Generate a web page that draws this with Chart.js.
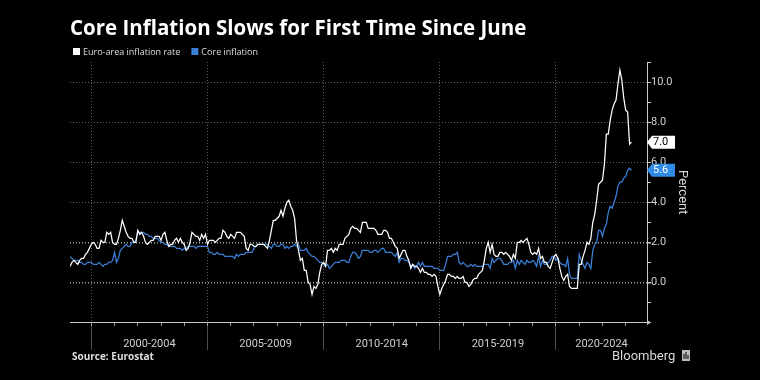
<!DOCTYPE html>
<html>
<head>
<meta charset="utf-8">
<script src="https://cdn.jsdelivr.net/npm/chart.js@4.4.0/dist/chart.umd.min.js"></script>
<style>
  html, body { margin: 0; padding: 0; background: #000; }
  #wrap { width: 760px; height: 380px; position: relative; }
</style>
</head>
<body>
<div id="wrap"><canvas id="c" width="760" height="380"></canvas></div>
<script>
// ---------- text ----------
const chartTitle = 'Core Inflation Slows for First Time Since June';
const seriesNames = ['Euro-area inflation rate', 'Core inflation'];
const sourceText = 'Source: Eurostat';
const brandText = 'Bloomberg';
const yAxisTitle = 'Percent';

// ---------- time axis (months since Jan 1999) ----------
const firstMonth = 1;          // Feb 1999
const xMin = 1, xMax = 299;    // Feb 1999 .. Dec 2023
const periodLabels = ['2000-2004', '2005-2009', '2010-2014', '2015-2019', '2020-2024'];
const periodStartYears = [2000, 2005, 2010, 2015, 2020];
const yLabelValues = [0, 2, 4, 6, 8, 10];

// ---------- series, monthly, Feb 1999 .. Apr 2023 ----------
const headline = [
  0.8, 1.0, 1.1, 1.0, 0.9, 1.1, 1.2, 1.2, 1.4, 1.5, 1.7,            // 1999
  1.9, 2.0, 1.9, 1.7, 1.7, 2.1, 2.0, 2.0, 2.5, 2.4, 2.5, 2.0,       // 2000
  1.9, 1.9, 2.2, 2.6, 3.1, 2.8, 2.5, 2.3, 2.2, 2.2, 2.0, 2.0,       // 2001
  2.6, 2.4, 2.5, 2.3, 2.0, 1.9, 2.0, 2.1, 2.1, 2.3, 2.3, 2.3,       // 2002
  2.1, 2.4, 2.5, 2.1, 1.8, 1.9, 1.9, 2.1, 2.2, 2.0, 2.2, 2.0,       // 2003
  1.9, 1.6, 1.7, 2.0, 2.5, 2.4, 2.3, 2.3, 2.1, 2.4, 2.2, 2.4,       // 2004
  1.9, 2.1, 2.1, 2.1, 2.0, 2.1, 2.2, 2.2, 2.6, 2.5, 2.3, 2.2,       // 2005
  2.4, 2.3, 2.2, 2.5, 2.5, 2.5, 2.4, 2.3, 1.7, 1.6, 1.9, 1.9,       // 2006
  1.8, 1.8, 1.9, 1.9, 1.9, 1.9, 1.8, 1.7, 2.1, 2.6, 3.1, 3.1,       // 2007
  3.2, 3.3, 3.6, 3.3, 3.7, 4.0, 4.1, 3.8, 3.6, 3.2, 2.1, 1.6,       // 2008
  1.1, 1.2, 0.6, 0.6, 0.0, -0.1, -0.6, -0.2, -0.3, -0.1, 0.5, 0.9,  // 2009
  1.0, 0.8, 1.6, 1.6, 1.7, 1.5, 1.7, 1.6, 1.9, 1.9, 1.9, 2.2,       // 2010
  2.3, 2.4, 2.7, 2.8, 2.7, 2.7, 2.6, 2.5, 3.0, 3.0, 3.0, 2.7,       // 2011
  2.7, 2.7, 2.7, 2.6, 2.4, 2.4, 2.4, 2.6, 2.6, 2.5, 2.2, 2.2,       // 2012
  2.0, 1.8, 1.7, 1.2, 1.4, 1.6, 1.6, 1.3, 1.1, 0.7, 0.9, 0.8,       // 2013
  0.8, 0.7, 0.5, 0.7, 0.5, 0.5, 0.4, 0.4, 0.3, 0.4, 0.3, -0.2,      // 2014
  -0.6, -0.3, -0.1, 0.1, 0.4, 0.4, 0.3, 0.3, 0.2, 0.3, 0.2, 0.2,    // 2015
  0.3, 0.0, 0.0, -0.2, -0.1, 0.1, 0.2, 0.2, 0.4, 0.5, 0.6, 1.1,     // 2016
  1.7, 2.0, 1.5, 1.9, 1.4, 1.3, 1.3, 1.5, 1.5, 1.4, 1.5, 1.4,       // 2017
  1.3, 1.1, 1.4, 1.2, 2.0, 2.0, 2.1, 2.0, 2.1, 2.2, 1.9, 1.5,       // 2018
  1.4, 1.5, 1.4, 1.7, 1.2, 1.3, 1.0, 1.0, 0.8, 0.7, 1.0, 1.3,       // 2019
  1.4, 1.2, 0.7, 0.3, 0.1, 0.3, 0.4, -0.2, -0.3, -0.3, -0.3, -0.3,  // 2020
  0.9, 0.9, 1.3, 1.6, 2.0, 1.9, 2.2, 3.0, 3.4, 4.1, 4.9, 5.0,       // 2021
  5.1, 5.9, 7.4, 7.4, 8.1, 8.6, 8.9, 9.1, 9.9, 10.6, 10.1, 9.2,     // 2022
  8.6, 8.5, 6.9, 7.0                                                // 2023
];
const core = [
  1.3, 1.2, 1.1, 1.1, 1.1, 1.0, 1.0, 0.9, 0.9, 1.0, 1.0,            // 1999
  1.0, 0.9, 0.9, 0.9, 1.0, 0.9, 0.8, 0.9, 0.9, 1.0, 1.0, 1.1,       // 2000
  1.5, 1.0, 1.2, 1.6, 1.7, 1.8, 1.9, 1.8, 1.8, 2.0, 2.0, 2.1,       // 2001
  2.5, 2.5, 2.5, 2.5, 2.4, 2.4, 2.3, 2.3, 2.2, 2.2, 2.2, 2.1,       // 2002
  2.0, 2.0, 1.9, 1.9, 1.8, 1.8, 1.8, 1.8, 1.7, 1.7, 1.7, 1.6,       // 2003
  1.7, 1.7, 1.8, 1.8, 1.8, 1.8, 1.7, 1.8, 1.8, 1.8, 1.8, 1.8,       // 2004
  1.8, 1.5, 1.5, 1.4, 1.4, 1.5, 1.4, 1.4, 1.4, 1.3, 1.3, 1.3,       // 2005
  1.3, 1.3, 1.2, 1.4, 1.3, 1.4, 1.4, 1.4, 1.5, 1.5, 1.5, 1.5,       // 2006
  1.7, 1.8, 1.9, 1.9, 1.9, 1.9, 1.9, 1.9, 1.8, 1.7, 1.9, 1.9,       // 2007
  1.8, 1.8, 1.9, 1.9, 1.7, 1.8, 1.7, 1.8, 1.8, 1.9, 1.8, 1.9,       // 2008
  1.6, 1.6, 1.6, 1.7, 1.5, 1.4, 1.3, 1.3, 1.2, 1.1, 1.0, 1.0,       // 2009
  0.9, 0.8, 0.9, 0.7, 0.8, 0.9, 1.0, 1.0, 1.0, 1.1, 1.1, 1.1,       // 2010
  1.0, 1.0, 1.3, 1.5, 1.5, 1.4, 1.2, 1.3, 1.6, 1.6, 1.6, 1.6,       // 2011
  1.5, 1.5, 1.6, 1.6, 1.5, 1.6, 1.7, 1.7, 1.5, 1.5, 1.5, 1.5,       // 2012
  1.4, 1.3, 1.5, 1.0, 1.2, 1.2, 1.1, 1.1, 1.0, 0.8, 0.9, 0.7,       // 2013
  0.8, 1.0, 0.8, 1.0, 0.8, 0.8, 0.8, 0.8, 0.8, 0.7, 0.7, 0.7,       // 2014
  0.6, 0.6, 0.6, 0.9, 1.3, 1.3, 1.3, 1.4, 1.4, 1.5, 1.0, 0.9,       // 2015
  1.0, 0.9, 0.8, 0.8, 0.9, 0.8, 0.9, 0.8, 0.8, 0.8, 0.8, 0.9,       // 2016
  0.9, 0.9, 0.7, 1.2, 1.0, 1.1, 1.2, 1.2, 1.1, 0.9, 0.9, 0.9,       // 2017
  1.0, 1.0, 1.1, 0.7, 1.1, 0.9, 1.1, 1.0, 0.9, 1.1, 1.0, 1.0,       // 2018
  1.1, 1.0, 0.8, 1.3, 0.8, 1.1, 0.9, 0.9, 1.0, 1.1, 1.3, 1.3,       // 2019
  1.1, 1.2, 1.0, 0.9, 0.9, 0.8, 1.2, 0.4, 0.2, 0.2, 0.2, 0.2,       // 2020
  1.4, 1.1, 0.9, 0.7, 1.0, 0.9, 0.7, 1.6, 1.9, 2.0, 2.6, 2.6,       // 2021
  2.3, 2.7, 2.9, 3.5, 3.8, 3.7, 4.0, 4.3, 4.8, 5.0, 5.0, 5.2,       // 2022
  5.3, 5.6, 5.7, 5.6                                                // 2023
];

// ---------- styles ----------
const WHITE = '#ffffff';
const BLUE = '#3a80d8';
const TAG_BLUE = '#2f8be6';
const FONT = 'Roboto';
const HEAD_FONT = '"Open Sans"';

const monthIndex = y => (y - 1999) * 12;
const sepTicks = periodStartYears.map(monthIndex);
const labelTicks = periodStartYears.map(y => {
  const s = monthIndex(y);
  return (s + Math.min(s + 60, xMax)) / 2;
});
const yearTicks = [];
for (let y = 2000; y <= 2023; y++) yearTicks.push(monthIndex(y));

const toPoints = arr => arr.map((v, i) => ({ x: firstMonth + i, y: v }));

const decor = {
  id: 'decor',
  afterDraw(chart) {
    const { ctx, chartArea, scales } = chart;
    ctx.save();
    // title
    ctx.fillStyle = '#ffffff';
    ctx.font = `bold 20.5px ${HEAD_FONT}`;
    ctx.textBaseline = 'alphabetic';
    ctx.textAlign = 'left';
    ctx.fillText(chartTitle, 70, 35);

    // legend
    ctx.font = `9px ${HEAD_FONT}`;
    ctx.textBaseline = 'middle';
    let lx = 73;
    const ly = 51.5;
    chart.data.datasets.forEach(ds => {
      ctx.fillStyle = ds.borderColor;
      ctx.fillRect(lx, ly - 3.5, 7, 7);
      ctx.fillStyle = '#dddddd';
      ctx.fillText(ds.label, lx + 10, ly + 0.5);
      lx += 10 + ctx.measureText(ds.label).width + 11;
    });

    // arrow at end of x axis
    ctx.fillStyle = '#c8c8c8';
    const ab = chartArea.bottom;
    ctx.beginPath();
    ctx.moveTo(chartArea.right, ab - 2.5);
    ctx.lineTo(chartArea.right + 4, ab);
    ctx.lineTo(chartArea.right, ab + 2.5);
    ctx.closePath();
    ctx.fill();

    // last-value tags
    chart.data.datasets.forEach((ds, i) => {
      const last = ds.data[ds.data.length - 1];
      const y = scales.y.getPixelForValue(last.y);
      const x0 = chartArea.right;
      const h = 6.5;
      ctx.fillStyle = i === 0 ? '#ffffff' : TAG_BLUE;
      ctx.beginPath();
      ctx.moveTo(x0, y);
      ctx.lineTo(x0 + 5, y - h);
      ctx.lineTo(x0 + 28, y - h);
      ctx.lineTo(x0 + 28, y + h);
      ctx.lineTo(x0 + 5, y + h);
      ctx.closePath();
      ctx.fill();
      ctx.fillStyle = i === 0 ? '#000000' : '#ffffff';
      ctx.font = `11px ${FONT}`;
      ctx.textBaseline = 'middle';
      ctx.fillText(last.y.toFixed(1), x0 + 6, y + 0.5);
    });

    // source
    ctx.fillStyle = '#dddddd';
    ctx.font = `bold 10px ${HEAD_FONT}`;
    ctx.textBaseline = 'middle';
    ctx.fillText(sourceText, 72, 357.5);

    // brand
    ctx.fillStyle = '#d8d8d8';
    ctx.font = `13px ${FONT}`;
    ctx.fillText(brandText, 612, 356.5);
    // small logo box
    ctx.fillStyle = '#bdbdbd';
    ctx.fillRect(682, 350, 8, 11);
    ctx.fillStyle = '#000';
    ctx.fillRect(683.5, 354, 1, 5);
    ctx.fillRect(685.5, 352, 1, 7);
    ctx.fillRect(687.5, 355, 1, 4);
    ctx.restore();
  }
};

new Chart(document.getElementById('c'), {
  type: 'line',
  data: {
    datasets: [
      { label: seriesNames[0], data: toPoints(headline), borderColor: WHITE, backgroundColor: WHITE,
        borderWidth: 1.25, pointRadius: 0, tension: 0, xAxisID: 'x', yAxisID: 'y' },
      { label: seriesNames[1], data: toPoints(core), borderColor: BLUE, backgroundColor: BLUE,
        borderWidth: 1.25, pointRadius: 0, tension: 0, xAxisID: 'x', yAxisID: 'y' }
    ]
  },
  options: {
    responsive: false,
    animation: false,
    events: [],
    layout: { padding: { top: 62, left: 70, right: 0, bottom: 27.5 } },
    plugins: { legend: { display: false }, title: { display: false }, tooltip: { enabled: false } },
    scales: {
      x: {
        type: 'linear', axis: 'x', position: 'bottom', min: xMin, max: xMax,
        afterBuildTicks: s => { s.ticks = labelTicks.map(v => ({ value: v })); },
        afterFit: s => { s.height = 30; },
        ticks: { callback: (v, i) => periodLabels[i], color: '#d0d0d0', font: { family: FONT, size: 11 },
                 padding: 15, autoSkip: false, maxRotation: 0, minRotation: 0 },
        grid: { display: false, drawTicks: false },
        border: { display: true, color: '#c8c8c8', width: 1 }
      },
      xs: {
        type: 'linear', axis: 'x', position: { y: -2 }, min: xMin, max: xMax,
        afterBuildTicks: s => { s.ticks = sepTicks.map(v => ({ value: v })); },
        ticks: { display: false },
        grid: { color: '#5c5c5c', lineWidth: 1, drawOnChartArea: true, drawTicks: true,
                tickLength: 27, tickColor: '#4c4c4c' },
        border: { display: false, dash: [1, 2] }
      },
      xm: {
        type: 'linear', axis: 'x', position: { y: -2 }, min: xMin, max: xMax,
        afterBuildTicks: s => { s.ticks = yearTicks.map(v => ({ value: v })); },
        ticks: { display: false },
        grid: { drawOnChartArea: false, drawTicks: true, tickLength: 3, tickColor: '#9a9a9a' },
        border: { display: false }
      },
      y: {
        type: 'linear', position: 'right', min: -2, max: 11,
        afterFit: s => { s.width = 113; },
        ticks: { stepSize: 1, autoSkip: false, padding: 0, color: '#d0d0d0', font: { family: FONT, size: 11 },
                 callback: v => yLabelValues.includes(v) ? v.toFixed(1) : '' },
        grid: {
          color: c => {
            const v = c.tick ? c.tick.value : null;
            if (v === 0 || v === 2) return '#a8a8a8';
            if (yLabelValues.includes(v)) return '#5c5c5c';
            return 'rgba(0,0,0,0)';
          },
          lineWidth: c => (c.tick && (c.tick.value === 0 || c.tick.value === 2)) ? 1.5 : 1,
          drawTicks: true, tickLength: 4, tickColor: '#c8c8c8'
        },
        border: { display: true, color: '#c8c8c8', width: 1, dash: [1, 2] },
        title: { display: true, text: yAxisTitle, color: '#d8d8d8', font: { family: FONT, size: 13 },
                 padding: { top: 70, bottom: 0 } }
      }
    }
  },
  plugins: [decor]
});
</script>
</body>
</html>
